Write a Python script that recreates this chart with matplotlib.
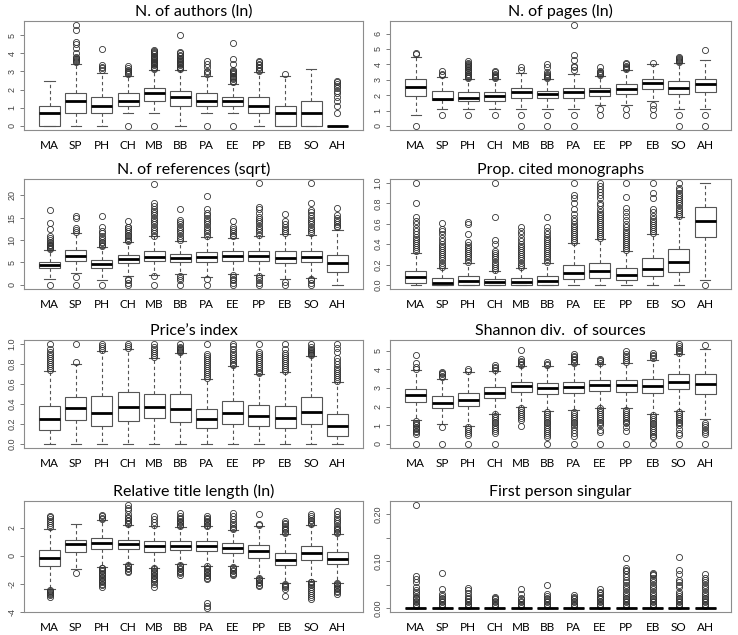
import matplotlib
matplotlib.use('Agg')
import matplotlib.pyplot as plt

# Journal groups on the x axis
categories = ['MA', 'SP', 'PH', 'CH', 'MB', 'BB', 'PA', 'EE', 'PP', 'EB', 'SO', 'AH']

# --- N. of authors (ln)
authors_q1 = [0, 0.69, 0.69, 1.1, 1.39, 1.1, 1.1, 1.1, 0.69, 0, 0, 0]
authors_med = [0.69, 1.39, 1.1, 1.39, 1.79, 1.61, 1.39, 1.39, 1.1, 0.69, 0.69, 0]
authors_q3 = [1.1, 1.79, 1.61, 1.79, 2.08, 1.95, 1.79, 1.61, 1.61, 1.1, 1.39, 0]
authors_lo = [0, 0, 0, 0.69, 0.69, 0, 0.69, 0.69, 0, 0, 0, 0]
authors_hi = [2.5, 3.43, 2.89, 2.77, 3.09, 3.09, 2.77, 2.3, 2.94, 2.74, 3.15, 0]
authors_out = [
    [],
    [3.5, 3.56, 3.64, 3.69, 3.74, 3.81, 4.0, 4.28, 4.5, 4.6, 5.3, 5.55],
    [3.09, 3.18, 3.26, 3.37, 4.23],
    [0, 2.83, 2.89, 2.94, 3.0, 3.09, 3.18, 3.3],
    [0, 3.14, 3.2, 3.26, 3.33, 3.4, 3.47, 3.53, 3.58, 3.64, 3.69, 3.74, 3.81, 3.87, 3.93, 4.0, 4.06, 4.13, 4.2],
    [3.14, 3.2, 3.26, 3.33, 3.4, 3.47, 3.53, 3.58, 3.64, 3.69, 3.76, 3.83, 3.91, 4.0, 4.06, 5.0],
    [0, 2.83, 2.94, 3.0, 3.22, 3.4, 3.56],
    [0, 2.4, 2.48, 2.56, 2.64, 2.71, 2.77, 2.83, 2.89, 2.94, 3.0, 3.09, 3.4, 3.7, 4.55],
    [3.0, 3.09, 3.18, 3.26, 3.33, 3.4, 3.5, 3.58],
    [2.83],
    [],
    [0.69, 1.1, 1.39, 1.61, 1.79, 1.95, 2.08, 2.2, 2.3, 2.4, 2.48],
]

# --- N. of pages (ln)
pages_q1 = [1.95, 1.69, 1.61, 1.61, 1.79, 1.79, 1.79, 1.95, 2.08, 2.4, 2.08, 2.2]
pages_med = [2.56, 1.73, 1.79, 1.95, 2.2, 2.08, 2.2, 2.3, 2.4, 2.77, 2.48, 2.71]
pages_q3 = [3.04, 2.3, 2.2, 2.2, 2.48, 2.3, 2.48, 2.48, 2.71, 3.04, 2.89, 3.04]
pages_lo = [0.69, 1.1, 1.1, 1.1, 1.1, 1.1, 1.1, 1.39, 1.39, 1.61, 1.1, 1.1]
pages_hi = [4.5, 3.2, 3.04, 3.04, 3.43, 3.04, 3.4, 3.26, 3.64, 4.0, 4.1, 4.25]
pages_out = [
    [0, 4.7, 4.75],
    [0.69, 3.3, 3.4, 3.55],
    [0.69, 3.1, 3.18, 3.26, 3.33, 3.4, 3.47, 3.53, 3.6, 3.66, 3.74, 3.81, 3.87, 3.93, 4.0, 4.1, 4.2],
    [0.69, 3.1, 3.18, 3.26, 3.33, 3.4, 3.47, 3.55],
    [0, 0.69, 3.6, 3.8],
    [0, 0.69, 3.1, 3.18, 3.26, 3.33, 3.4, 3.5, 3.8, 4.05],
    [0, 0.69, 3.6, 3.8, 3.9, 4.3, 4.6, 6.55],
    [0.69, 1.1, 3.3, 3.37, 3.43, 3.5, 3.58, 3.85],
    [0.69, 1.1, 3.7, 3.76, 3.83, 3.9, 4.0, 4.1],
    [0.69, 1.1, 1.39, 4.1],
    [0, 0.69, 4.15, 4.2, 4.26, 4.32, 4.38, 4.45],
    [0, 0.69, 4.9],
]

# --- N. of references (sqrt)
refs_q1 = [3.7, 5.3, 3.74, 4.9, 5.3, 5.0, 5.1, 5.4, 5.3, 4.8, 5.0, 2.9]
refs_med = [4.36, 6.4, 4.7, 5.7, 6.3, 5.9, 6.2, 6.5, 6.5, 6.1, 6.3, 4.9]
refs_q3 = [5.2, 7.7, 5.6, 6.6, 7.5, 7.0, 7.3, 7.6, 7.6, 7.5, 7.5, 6.6]
refs_lo = [1.4, 2.6, 1.0, 2.0, 2.2, 2.4, 1.7, 2.4, 2.2, 1.4, 1.6, 0]
refs_hi = [7.8, 11.5, 8.5, 9.5, 10.8, 9.8, 10.6, 10.5, 11.0, 11.3, 11.2, 12.2]
refs_out = [
    [0, 8.0, 8.2, 8.4, 8.6, 8.8, 9.0, 9.3, 9.6, 10.0, 10.5, 11.0, 12.4, 13.7, 16.6],
    [0, 1.7, 11.8, 12.2, 12.6, 15.0, 15.3],
    [0, 8.7, 9.0, 9.3, 9.6, 10.0, 10.5, 11.0, 11.5, 12.0, 12.8, 15.3],
    [0, 0.5, 1.0, 1.4, 9.7, 10.0, 10.4, 10.8, 11.2, 11.6, 12.0, 12.4, 12.8, 13.0, 14.3],
    [0, 2.0, 11.0, 11.5, 12.0, 12.5, 13.0, 13.5, 14.0, 14.5, 15.0, 15.5, 16.0, 16.5, 17.0, 17.5, 18.3, 22.6],
    [0, 1.0, 1.5, 2.0, 10.0, 10.5, 11.0, 11.5, 12.0, 12.5, 13.0, 13.5, 14.0, 14.5, 16.9],
    [0, 1.3, 11.0, 11.5, 12.0, 12.5, 13.0, 13.5, 14.0, 14.5, 15.0, 15.5, 16.0, 17.0, 19.8],
    [0, 0.5, 1.0, 1.4, 1.8, 2.2, 10.8, 11.2, 11.6, 12.0, 12.5, 13.0, 14.2],
    [0, 0.5, 1.0, 1.5, 2.0, 11.2, 11.7, 12.2, 12.7, 13.2, 13.7, 14.2, 14.7, 15.2, 16.0, 17.0, 17.4, 22.7],
    [0, 0.7, 11.5, 12.0, 12.5, 13.0, 13.5, 14.2, 15.9],
    [0, 0.5, 1.0, 1.4, 11.5, 12.0, 12.5, 13.0, 13.5, 14.0, 14.5, 15.0, 15.5, 16.2, 16.8, 18.3, 22.7],
    [12.8, 13.2, 13.6, 14.0, 14.5, 15.0, 15.5, 17.1],
]

# --- Prop. cited monographs
mono_q1 = [0.02, 0, 0, 0, 0, 0, 0.06, 0.07, 0.05, 0.09, 0.13, 0.47]
mono_med = [0.075, 0.02, 0.035, 0.025, 0.03, 0.04, 0.12, 0.135, 0.1, 0.16, 0.23, 0.63]
mono_q3 = [0.14, 0.07, 0.09, 0.06, 0.07, 0.09, 0.2, 0.22, 0.17, 0.26, 0.35, 0.77]
mono_lo = [0, 0, 0, 0, 0, 0, 0, 0, 0, 0, 0, 0.05]
mono_hi = [0.31, 0.17, 0.22, 0.14, 0.17, 0.22, 0.41, 0.45, 0.33, 0.5, 0.67, 1.0]
mono_out = [
    [0.33, 0.35, 0.37, 0.39, 0.41, 0.43, 0.45, 0.47, 0.5, 0.53, 0.56, 0.6, 0.63, 0.67, 0.8, 1.0],
    [0.18, 0.2, 0.22, 0.24, 0.26, 0.28, 0.3, 0.32, 0.34, 0.36, 0.38, 0.4, 0.43, 0.46, 0.5, 0.53, 0.55, 0.61],
    [0.23, 0.25, 0.27, 0.29, 0.31, 0.33, 0.35, 0.37, 0.39, 0.42, 0.5, 0.6, 0.62],
    [0.15, 0.17, 0.19, 0.21, 0.23, 0.25, 0.27, 0.29, 0.31, 0.33, 0.4, 0.44, 0.67, 1.0],
    [0.18, 0.2, 0.22, 0.24, 0.26, 0.28, 0.3, 0.32, 0.34, 0.36, 0.38, 0.4, 0.43, 0.46, 0.5, 0.53, 0.57],
    [0.23, 0.25, 0.27, 0.29, 0.31, 0.33, 0.35, 0.37, 0.39, 0.41, 0.43, 0.45, 0.47, 0.5, 0.53, 0.57, 0.67],
    [0.42, 0.44, 0.46, 0.48, 0.5, 0.52, 0.54, 0.56, 0.58, 0.6, 0.63, 0.66, 0.7, 0.75, 0.8, 0.85, 0.88, 1.0],
    [0.46, 0.48, 0.5, 0.52, 0.54, 0.56, 0.58, 0.6, 0.62, 0.64, 0.66, 0.68, 0.7, 0.72, 0.75, 0.78, 0.8,
     0.85, 0.88, 0.91, 0.94, 0.97, 1.0],
    [0.34, 0.36, 0.38, 0.4, 0.42, 0.44, 0.46, 0.48, 0.5, 0.52, 0.54, 0.57, 0.6, 0.64, 0.68, 0.72, 0.76, 0.86, 1.0],
    [0.51, 0.53, 0.55, 0.57, 0.59, 0.61, 0.63, 0.65, 0.68, 0.72, 0.75, 0.85, 0.9, 1.0],
    [0.68, 0.7, 0.72, 0.74, 0.76, 0.78, 0.8, 0.82, 0.84, 0.86, 0.88, 0.9, 0.93, 0.95, 1.0],
    [0],
]

# --- Price's index
price_q1 = [0.14, 0.24, 0.18, 0.23, 0.26, 0.22, 0.16, 0.2, 0.185, 0.16, 0.2, 0.08]
price_med = [0.25, 0.36, 0.315, 0.375, 0.375, 0.35, 0.25, 0.31, 0.28, 0.26, 0.32, 0.18]
price_q3 = [0.38, 0.47, 0.48, 0.52, 0.5, 0.5, 0.355, 0.43, 0.39, 0.38, 0.47, 0.3]
price_lo = [0, 0, 0, 0, 0, 0, 0, 0, 0, 0, 0, 0]
price_hi = [0.73, 0.8, 0.93, 0.95, 0.86, 0.91, 0.65, 0.78, 0.7, 0.72, 0.88, 0.62]
price_out = [
    [0.74, 0.76, 0.78, 0.8, 0.82, 0.84, 0.86, 0.88, 0.9, 0.92, 0.95, 1.0],
    [0.82, 1.0],
    [0.94, 0.96, 0.98, 1.0],
    [0.96, 0.98, 1.0],
    [0.87, 0.89, 0.91, 0.93, 0.95, 0.97, 1.0],
    [0.92, 0.93, 0.94, 0.95, 0.96, 0.97, 1.0],
    [0.66, 0.68, 0.7, 0.72, 0.74, 0.76, 0.78, 0.8, 0.82, 0.84, 0.86, 0.88, 0.9, 1.0],
    [0.79, 0.8, 0.82, 0.84, 0.86, 0.88, 0.9, 0.92, 0.95, 0.98, 1.0],
    [0.71, 0.72, 0.74, 0.76, 0.78, 0.8, 0.82, 0.84, 0.86, 0.88, 0.9, 0.92, 1.0],
    [0.73, 0.75, 0.77, 0.79, 0.81, 0.83, 0.85, 0.87, 0.89, 0.91, 0.95, 1.0],
    [0.89, 0.9, 0.91, 0.92, 0.93, 0.94, 0.95, 0.97, 1.0],
    [0.63, 0.65, 0.67, 0.69, 0.71, 0.73, 0.75, 0.77, 0.8, 0.83, 0.86, 0.92, 0.96, 1.0],
]

# --- Shannon div. of sources
shannon_q1 = [2.27, 1.9, 2.03, 2.48, 2.8, 2.65, 2.72, 2.85, 2.8, 2.72, 2.92, 2.7]
shannon_med = [2.63, 2.2, 2.38, 2.75, 3.08, 2.98, 3.06, 3.17, 3.13, 3.12, 3.33, 3.22]
shannon_q3 = [2.95, 2.55, 2.73, 3.05, 3.33, 3.28, 3.33, 3.45, 3.45, 3.5, 3.72, 3.72]
shannon_lo = [1.28, 1.08, 0.95, 1.62, 2.0, 1.78, 1.8, 1.95, 1.9, 1.58, 1.78, 1.35]
shannon_hi = [3.95, 3.5, 3.85, 3.9, 4.15, 4.18, 4.28, 4.3, 4.35, 4.52, 4.83, 5.1]
shannon_out = [
    [0, 0.55, 0.62, 0.7, 0.78, 0.85, 0.92, 1.0, 1.08, 1.15, 1.22, 4.0, 4.1, 4.35, 4.75],
    [0, 0.9, 3.58, 3.65, 3.72, 3.78, 3.85],
    [0, 0.5, 0.6, 0.7, 0.8, 0.9, 3.92, 4.0],
    [0, 0.6, 0.7, 0.8, 0.9, 1.0, 1.1, 1.2, 1.3, 1.4, 1.5, 1.6, 3.98, 4.05, 4.12, 4.2],
    [0.95, 1.3, 1.4, 1.5, 1.6, 1.7, 1.8, 1.9, 4.22, 4.3, 4.38, 4.46, 4.55, 5.05],
    [0, 0.4, 0.5, 0.6, 0.7, 0.8, 0.9, 1.0, 1.1, 1.2, 1.3, 1.4, 1.5, 1.6, 1.7, 4.22, 4.3, 4.38],
    [0, 0.45, 0.6, 0.75, 0.9, 1.0, 1.1, 1.2, 1.3, 1.4, 1.5, 1.6, 1.7, 4.32, 4.4, 4.48, 4.56, 4.64, 4.72, 4.8],
    [0, 0.65, 0.75, 1.0, 1.1, 1.2, 1.3, 1.4, 1.5, 1.6, 1.7, 1.8, 1.9, 4.35, 4.42, 4.5, 4.55],
    [0, 0.7, 0.9, 1.1, 1.2, 1.3, 1.4, 1.5, 1.6, 1.7, 1.8, 4.4, 4.5, 4.6, 4.7, 4.8, 4.95],
    [0, 0.35, 0.45, 0.55, 0.65, 0.75, 0.85, 0.95, 1.05, 1.15, 1.25, 1.35, 1.45, 1.55, 4.6, 4.7, 4.78, 4.85],
    [0, 0.5, 0.6, 0.8, 1.0, 1.1, 1.2, 1.3, 1.4, 1.5, 1.6, 1.7, 4.85, 4.95, 5.05, 5.15, 5.25, 5.35],
    [0, 0.55, 0.65, 0.75, 0.9, 1.0, 1.1, 5.3],
]

# --- Relative title length (ln)
title_q1 = [-0.7, 0.3, 0.45, 0.45, 0.28, 0.38, 0.35, 0.2, -0.18, -0.68, -0.32, -0.62]
title_med = [-0.17, 0.8, 0.88, 0.82, 0.7, 0.72, 0.7, 0.55, 0.33, -0.28, 0.2, -0.22]
title_q3 = [0.42, 1.13, 1.28, 1.15, 1.05, 1.05, 1.08, 0.9, 0.78, 0.2, 0.72, 0.25]
title_lo = [-2.35, -0.95, -0.8, -0.6, -0.85, -0.62, -0.7, -0.75, -1.55, -1.97, -1.82, -1.92]
title_hi = [1.93, 2.28, 2.55, 2.2, 2.15, 2.05, 2.08, 1.85, 2.15, 1.55, 2.2, 1.55]
title_out = [
    [-2.9, -2.82, -2.74, -2.66, -2.58, -2.5, -2.45, 2.05, 2.2, 2.35, 2.5, 2.6, 2.75, 2.85],
    [-1.25],
    [-2.2, -2.1, -2.0, -1.9, -1.8, -1.7, -1.6, -1.5, -1.4, -1.3, -1.2, -1.1, -1.0, -0.9, -0.85, 2.6, 2.7, 2.8, 2.9],
    [-1.15, -1.05, -0.95, -0.85, -0.75, -0.65, 2.25, 2.35, 2.45, 2.55, 2.65, 2.75, 3.0, 3.25, 3.4, 3.6],
    [-2.25, -2.0, -1.85, -1.75, -1.65, -1.55, -1.45, -1.35, -1.25, -1.15, -1.05, -0.95, -0.9, 2.2, 2.4, 2.6, 2.8],
    [-1.35, -1.25, -1.15, -1.05, -0.95, -0.85, -0.75, -0.65, 2.1, 2.2, 2.3, 2.4, 2.5, 2.6, 2.7, 2.85, 3.05],
    [-3.7, -3.55, -3.35, -1.65, -1.55, -1.45, -1.35, -1.25, -1.15, -1.05, -0.95, -0.85, -0.75,
     2.1, 2.2, 2.3, 2.4, 2.5, 2.6, 2.7, 2.85],
    [-1.4, -1.3, -1.2, -1.1, -1.0, -0.9, -0.8, 1.9, 2.0, 2.1, 2.25, 2.4, 2.6, 2.8, 3.05],
    [-2.15, -2.05, -1.95, -1.85, -1.75, -1.65, -1.6, 2.2, 2.25, 2.95],
    [-2.85, -2.35, -2.25, -2.15, -2.05, -2.0, 1.6, 1.7, 1.8, 1.9, 2.0, 2.1, 2.25, 2.35, 2.45],
    [-3.1, -2.95, -2.8, -2.65, -2.5, -2.35, -2.2, -2.1, -2.0, -1.9, -1.85, 2.25, 2.35, 2.45, 2.55, 2.65, 2.8, 2.95],
    [-2.7, -2.6, -2.5, -2.4, -2.3, -2.2, -2.1, -2.0, -1.95, 1.6, 1.7, 1.8, 1.9, 2.0, 2.15, 2.3, 2.45,
     2.6, 2.75, 2.95, 3.2],
]

# --- First person singular (all boxes collapsed at zero)
first_q1 = [0] * 12
first_med = [0] * 12
first_q3 = [0] * 12
first_lo = [0] * 12
first_hi = [0] * 12
first_out = [
    [0.003, 0.006, 0.009, 0.012, 0.015, 0.018, 0.021, 0.024, 0.03, 0.034, 0.038, 0.045, 0.055, 0.062, 0.068, 0.22],
    [0.003, 0.006, 0.009, 0.012, 0.015, 0.018, 0.022, 0.026, 0.03, 0.04, 0.075],
    [0.003, 0.006, 0.009, 0.012, 0.015, 0.018, 0.022, 0.026, 0.032, 0.038, 0.043],
    [0.003, 0.006, 0.009, 0.012, 0.015, 0.018, 0.021, 0.024],
    [0.003, 0.006, 0.009, 0.012, 0.015, 0.018, 0.021, 0.03, 0.041],
    [0.003, 0.006, 0.009, 0.012, 0.015, 0.018, 0.022, 0.026, 0.03, 0.049],
    [0.003, 0.006, 0.009, 0.012, 0.015, 0.018, 0.021, 0.024, 0.027],
    [0.003, 0.006, 0.009, 0.012, 0.015, 0.018, 0.021, 0.024, 0.028, 0.032, 0.035, 0.04],
    [0.003, 0.006, 0.009, 0.012, 0.015, 0.018, 0.021, 0.025, 0.03, 0.035, 0.04, 0.045, 0.05, 0.055,
     0.06, 0.066, 0.072, 0.078, 0.082, 0.085, 0.107],
    [0.003, 0.006, 0.009, 0.012, 0.015, 0.018, 0.021, 0.025, 0.03, 0.035, 0.04, 0.045, 0.05, 0.055,
     0.06, 0.065, 0.07, 0.073, 0.075],
    [0.003, 0.006, 0.009, 0.012, 0.015, 0.018, 0.021, 0.025, 0.03, 0.034, 0.045, 0.05, 0.055, 0.06, 0.072, 0.082, 0.11],
    [0.003, 0.006, 0.009, 0.012, 0.015, 0.018, 0.021, 0.025, 0.03, 0.035, 0.04, 0.045, 0.05, 0.055,
     0.06, 0.065, 0.072],
]

panels = [
    ('N. of authors (ln)', authors_q1, authors_med, authors_q3, authors_lo, authors_hi, authors_out,
     [0, 1, 2, 3, 4, 5], None),
    ('N. of pages (ln)', pages_q1, pages_med, pages_q3, pages_lo, pages_hi, pages_out,
     [0, 1, 2, 3, 4, 5, 6], None),
    ('N. of references (sqrt)', refs_q1, refs_med, refs_q3, refs_lo, refs_hi, refs_out,
     [0, 5, 10, 15, 20], None),
    ('Prop. cited monographs', mono_q1, mono_med, mono_q3, mono_lo, mono_hi, mono_out,
     [0, 0.2, 0.4, 0.6, 0.8, 1.0], ['0.0', '0.2', '0.4', '0.6', '0.8', '1.0']),
    ('Price\u2019s index', price_q1, price_med, price_q3, price_lo, price_hi, price_out,
     [0, 0.2, 0.4, 0.6, 0.8, 1.0], ['0.0', '0.2', '0.4', '0.6', '0.8', '1.0']),
    ('Shannon div.  of sources', shannon_q1, shannon_med, shannon_q3, shannon_lo, shannon_hi, shannon_out,
     [0, 1, 2, 3, 4, 5], None),
    ('Relative title length (ln)', title_q1, title_med, title_q3, title_lo, title_hi, title_out,
     [-4, -2, 0, 2], None),
    ('First person singular', first_q1, first_med, first_q3, first_lo, first_hi, first_out,
     [0, 0.05, 0.1, 0.15, 0.2], ['0.00', '', '0.10', '', '0.20']),
]

W, H = 738, 635
fig = plt.figure(figsize=(W / 100, H / 100), dpi=100)

cols = [(24, 363), (390, 731)]
rows = [(21, 130), (179, 289), (340, 448), (501, 612)]

edge = '#555555'
frame = '#8c8c8c'

for i, (title, q1, med, q3, lo, hi, out, yt, ytl) in enumerate(panels):
    c0, c1 = cols[i % 2]
    r0, r1 = rows[i // 2]
    ax = fig.add_axes([c0 / W, 1 - r1 / H, (c1 - c0) / W, (r1 - r0) / H])

    stats = []
    for k in range(len(categories)):
        stats.append(dict(med=med[k], q1=q1[k], q3=q3[k], whislo=lo[k], whishi=hi[k],
                          fliers=out[k], label=categories[k]))

    ax.bxp(stats, positions=range(1, 13), widths=0.8, capwidths=0.4, patch_artist=True,
           boxprops=dict(facecolor='white', edgecolor=edge, linewidth=0.8),
           medianprops=dict(color='black', linewidth=2.0, solid_capstyle='butt'),
           whiskerprops=dict(color=edge, linewidth=0.8, linestyle=(0, (3, 2.5))),
           capprops=dict(color=edge, linewidth=0.8),
           flierprops=dict(marker='o', markerfacecolor='none', markeredgecolor='#333333',
                           markersize=4.4, markeredgewidth=0.6))

    allv = [v for k in range(12) for v in out[k] + [lo[k], hi[k]]]
    vmin, vmax = min(allv), max(allv)
    pad = (vmax - vmin) * 0.04
    ax.set_ylim(vmin - pad, vmax + pad)
    ax.set_xlim(0.02, 12.98)

    ax.set_yticks(yt)
    if ytl is not None:
        ax.set_yticklabels(ytl)
    else:
        ax.set_yticklabels([str(v) for v in yt])
    for lab in ax.get_yticklabels():
        lab.set_rotation(90)
        lab.set_va('center')
        lab.set_family('Liberation Sans')
        lab.set_fontsize(6.5)
        lab.set_color('#444444')
    ax.tick_params(axis='y', length=3, width=0.6, color='#666666', pad=2.5)

    ax.set_xticks(range(1, 13))
    ax.set_xticklabels(categories, fontfamily='Lato', fontsize=8.5)
    ax.tick_params(axis='x', length=0, pad=7)

    for s in ax.spines.values():
        s.set_color(frame)
        s.set_linewidth(0.8)

    ax.set_title(title, fontfamily='Lato', fontsize=11.5, pad=3.5)

fig.savefig('out.png', dpi=100)
